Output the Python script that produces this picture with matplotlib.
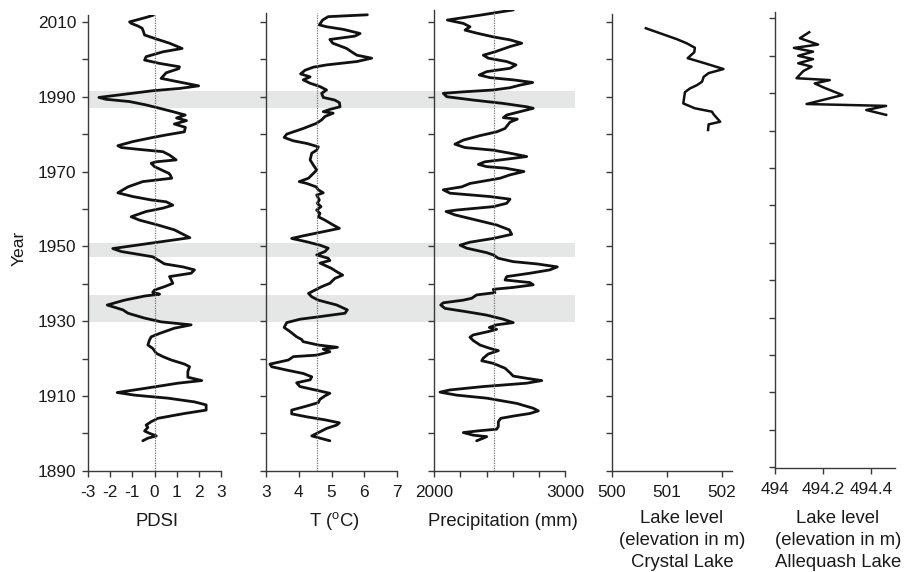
import matplotlib
matplotlib.use("Agg")
import matplotlib.pyplot as plt
import numpy as np

plt.rcParams['font.family'] = ['Liberation Sans', 'DejaVu Sans']
plt.rcParams['mathtext.fontset'] = 'custom'
plt.rcParams['mathtext.rm'] = 'Liberation Sans'
plt.rcParams['axes.unicode_minus'] = False

# --- data -------------------------------------------------------------
pdsi_year = [2011.8, 2011.2, 2010.0, 2009.6, 2008.9, 2008.3, 2007.4, 2006.5, 2005.6, 2004.3,
             2002.9, 2002.0, 2000.7, 1999.8, 1998.9, 1998.0, 1997.5, 1996.4, 1994.9, 1994.0,
             1992.9, 1992.2, 1991.6, 1990.6, 1989.8, 1989.3, 1988.7, 1987.8, 1986.9, 1986.0,
             1985.1, 1984.3, 1983.6, 1982.7, 1981.8, 1980.6, 1979.8, 1979.1, 1978.0, 1976.9,
             1976.4, 1975.9, 1975.3, 1974.4, 1973.1, 1972.6, 1972.2, 1971.3, 1969.5, 1969.1,
             1968.2, 1967.3, 1965.9, 1964.3, 1963.3, 1962.4, 1961.9, 1961.0, 1960.2, 1959.3,
             1957.9, 1957.0, 1955.7, 1954.4, 1952.3, 1949.4, 1948.6, 1947.2, 1946.1, 1945.3,
             1944.5, 1943.7, 1942.8, 1941.9, 1941.0, 1940.1, 1939.2, 1938.3, 1937.7, 1937.2,
             1936.7, 1935.6, 1934.3, 1933.0, 1932.1, 1930.8, 1929.8, 1929.0, 1928.1, 1926.7,
             1925.8, 1924.9, 1923.6, 1922.7, 1921.4, 1920.5, 1919.6, 1918.5, 1917.8, 1916.5,
             1915.0, 1914.1, 1913.4, 1912.0, 1910.9, 1910.2, 1909.4, 1908.4, 1907.6, 1906.2,
             1905.3, 1904.0, 1903.1, 1902.2, 1901.6, 1900.6, 1900.0, 1899.3, 1898.7, 1898.0]
pdsi = [-0.05, -0.38, -1.13, -1.05, -0.75, -0.56, -0.5, -0.45, 0.0, 0.68,
        1.25, 0.38, -0.38, -0.45, 0.23, 1.13, 1.1, 0.53, 0.3, 1.06,
        2.0, 1.13, -0.08, -1.43, -2.52, -2.19, -1.13, -0.38, 0.23, 0.83,
        1.39, 1.0, 1.45, 0.9, 1.4, 1.35, 0.55, -0.08, -0.98, -1.66,
        -1.5, -0.68, 0.38, 0.68, 0.98, 0.08, -0.15, 0.0, 0.65, 0.71,
        0.78, -0.53, -1.2, -1.66, -0.98, -0.15, 0.53, 0.83, 0.38, -0.38,
        -1.06, -0.68, 0.15, 0.9, 1.6, -1.89, -1.5, -0.08, 0.23, 0.45,
        1.28, 1.81, 1.66, 0.68, 0.76, 0.83, 0.45, 0.0, -0.08, 0.23,
        -0.45, -1.36, -2.14, -1.43, -1.2, -0.45, 0.3, 1.66, 0.9, 0.23,
        -0.15, -0.23, -0.3, -0.08, 0.08, 0.38, 0.76, 1.36, 1.59, 1.51,
        1.51, 2.14, 1.06, -0.45, -1.69, -0.9, 0.6, 1.81, 2.34, 2.34,
        1.36, 0.15, -0.15, -0.38, -0.3, -0.45, -0.23, 0.08, -0.3, -0.53]

temp_year = [2011.9, 2011.4, 2010.5, 2009.2, 2008.7, 2008.0, 2006.9, 2006.2, 2005.3, 2004.3,
             2002.9, 2002.0, 2001.1, 2000.3, 1999.4, 1998.5, 1997.9, 1997.1, 1996.1, 1995.3,
             1994.5, 1993.6, 1992.7, 1991.8, 1990.9, 1989.8, 1989.1, 1988.4, 1987.3, 1986.6,
             1986.0, 1985.6, 1984.7, 1983.8, 1982.9, 1981.5, 1980.0, 1979.1, 1978.2, 1977.5,
             1976.6, 1975.7, 1974.9, 1973.1, 1971.7, 1970.4, 1969.5, 1968.2, 1967.3, 1966.8,
             1965.9, 1965.1, 1964.3, 1963.7, 1962.4, 1961.5, 1960.6, 1959.7, 1958.8, 1957.9,
             1957.0, 1955.7, 1954.8, 1953.9, 1952.8, 1952.1, 1951.2, 1950.3, 1949.5, 1948.6,
             1947.7, 1946.8, 1946.2, 1945.5, 1944.7, 1944.1, 1943.2, 1942.3, 1941.4, 1940.1,
             1939.2, 1938.3, 1937.4, 1936.5, 1935.6, 1934.3, 1933.0, 1932.1, 1931.2, 1930.5,
             1929.6, 1928.3, 1927.2, 1925.8, 1925.1, 1924.5, 1923.6, 1923.0, 1922.5, 1921.8,
             1920.9, 1920.5, 1919.6, 1918.5, 1917.8, 1916.9, 1916.0, 1915.1, 1914.3, 1913.5,
             1912.5, 1911.4, 1910.7, 1910.0, 1909.1, 1908.2, 1907.3, 1906.2, 1905.2, 1904.4,
             1903.6, 1902.8, 1902.2, 1901.3, 1900.4, 1899.3, 1898.0]
temp = [6.09, 4.9, 4.73, 4.63, 4.85, 5.36, 5.87, 5.71, 4.95, 5.04,
        5.46, 5.61, 5.77, 6.22, 5.77, 4.85, 4.45, 4.2, 4.06, 4.35,
        4.14, 4.35, 4.65, 4.85, 4.7, 4.75, 5.1, 5.24, 5.26, 4.95,
        4.75, 5.05, 4.8, 4.7, 4.55, 4.14, 3.64, 3.56, 3.84, 4.25,
        4.6, 4.55, 4.4, 4.35, 4.45, 4.55, 4.45, 4.3, 4.02, 4.25,
        4.53, 4.6, 4.75, 4.55, 4.63, 4.57, 4.68, 4.55, 4.65, 4.6,
        4.8, 5.05, 5.24, 4.75, 4.14, 3.79, 4.25, 4.65, 4.9, 4.8,
        4.55, 4.9, 4.95, 4.65, 4.85, 5.0, 5.16, 5.34, 5.1, 4.95,
        4.7, 4.5, 4.3, 4.4, 4.6, 5.16, 5.48, 5.41, 4.65, 4.04,
        3.64, 3.56, 3.74, 3.94, 4.09, 4.14, 4.6, 5.18, 4.75, 4.95,
        4.55, 3.84, 3.69, 3.13, 3.18, 3.64, 4.14, 4.4, 4.35, 3.94,
        4.04, 4.6, 4.95, 4.8, 4.65, 4.6, 4.25, 3.79, 3.79, 4.25,
        4.8, 5.24, 5.16, 4.85, 4.65, 4.4, 4.95]

prec_year = [2013.2, 2011.8, 2010.5, 2009.6, 2008.7, 2007.8, 2007.0, 2006.0, 2005.2, 2004.3,
             2003.4, 2002.0, 2001.1, 2000.3, 1999.4, 1998.5, 1997.6, 1996.7, 1995.8, 1995.1,
             1994.5, 1993.8, 1993.1, 1992.4, 1991.8, 1991.3, 1990.9, 1990.0, 1989.1, 1988.2,
             1987.3, 1986.9, 1986.0, 1985.1, 1984.4, 1984.0, 1983.2, 1981.5, 1980.6, 1979.6,
             1978.4, 1977.3, 1976.4, 1975.7, 1974.9, 1974.0, 1973.3, 1972.6, 1971.9, 1971.3,
             1970.9, 1970.0, 1969.1, 1968.2, 1966.8, 1965.9, 1965.1, 1964.2, 1963.3, 1962.6,
             1961.5, 1960.6, 1959.7, 1959.3, 1958.4, 1957.0, 1955.7, 1954.4, 1953.2, 1952.1,
             1951.1, 1950.3, 1949.5, 1948.3, 1947.7, 1946.8, 1945.9, 1945.3, 1944.5, 1943.7,
             1942.8, 1941.9, 1941.0, 1940.3, 1939.7, 1939.0, 1938.5, 1937.6, 1937.0, 1936.1,
             1935.6, 1934.9, 1934.3, 1933.4, 1932.5, 1931.6, 1930.5, 1929.6, 1929.0, 1928.3,
             1927.8, 1927.2, 1926.3, 1925.7, 1924.8, 1923.6, 1922.7, 1922.1, 1921.2, 1920.1,
             1919.4, 1918.7, 1917.4, 1916.2, 1915.3, 1914.7, 1914.1, 1913.4, 1912.5, 1911.6,
             1911.0, 1910.2, 1909.4, 1908.0, 1906.7, 1906.0, 1905.3, 1904.6, 1904.0, 1903.1,
             1901.8, 1901.1, 1900.7, 1900.2, 1899.5, 1899.1, 1898.7, 1898.0]
prec = [2604, 2350, 2100, 2222, 2273, 2235, 2324, 2451, 2579, 2669,
        2579, 2464, 2375, 2413, 2554, 2625, 2579, 2401, 2344, 2426,
        2604, 2753, 2656, 2579, 2451, 2222, 2069, 2095, 2298, 2528,
        2707, 2757, 2656, 2554, 2528, 2635, 2579, 2541, 2477, 2350,
        2222, 2158, 2235, 2451, 2579, 2707, 2554, 2388, 2337, 2401,
        2541, 2686, 2579, 2503, 2273, 2210, 2069, 2120, 2426, 2579,
        2554, 2451, 2171, 2090, 2158, 2324, 2477, 2574, 2592, 2451,
        2273, 2197, 2248, 2401, 2451, 2490, 2604, 2783, 2941, 2885,
        2732, 2554, 2541, 2732, 2757, 2604, 2451, 2464, 2324, 2286,
        2222, 2069, 2049, 2082, 2248, 2401, 2528, 2604, 2477, 2421,
        2477, 2413, 2298, 2273, 2298, 2350, 2426, 2490, 2413, 2375,
        2363, 2451, 2541, 2579, 2604, 2707, 2822, 2707, 2375, 2120,
        2044, 2171, 2401, 2630, 2757, 2796, 2732, 2604, 2508, 2490,
        2490, 2477, 2350, 2222, 2298, 2401, 2375, 2324]

crystal_year = [2008.3, 2005.4, 2004.3, 2003.1, 2001.9, 2000.3, 1998.9, 1997.4, 1996.3, 1995.3,
                1994.0, 1993.1, 1992.2, 1991.2, 1988.2, 1986.9, 1986.0, 1985.3, 1983.3, 1982.6,
                1981.1]
crystal = [500.62, 501.18, 501.36, 501.51, 501.50, 501.38, 501.70, 502.03, 501.76, 501.67,
           501.64, 501.55, 501.42, 501.33, 501.30, 501.51, 501.82, 501.85, 501.97, 501.76,
           501.75]

alleq_year = [2006.3, 2004.7, 2003.0, 2002.1, 2001.1, 2000.0, 1999.1, 1998.0, 1997.1, 1995.9,
              1994.0, 1993.5, 1992.6, 1991.4, 1989.5, 1988.2, 1987.1, 1986.6, 1985.5, 1984.2]
alleq = [494.142, 494.103, 494.179, 494.078, 494.158, 494.096, 494.158, 494.096, 494.152, 494.117,
         494.089, 494.228, 494.165, 494.207, 494.281, 494.200, 494.131, 494.464, 494.381, 494.464]

# dry periods shaded across the climate panels
bands = [(1987.1, 1991.6), (1947.2, 1950.9), (1929.8, 1937.0)]

pdsi_ref, temp_ref, prec_ref = 0.0, 4.57, 2457

# --- layout (pixels) ----------------------------------------------------
W, H = 913, 572
PPY = 3.74  # pixels per year


def add_panel(x0, x1, ybot, y0, y1):
    rect = [x0 / W, (H - ybot) / H, (x1 - x0) / W, (y1 - y0) * PPY / H]
    ax = fig.add_axes(rect)
    ax.set_ylim(y0, y1)
    ax.patch.set_alpha(0)
    return ax


fig = plt.figure(figsize=(W / 100, H / 100), dpi=100)

bg = add_panel(88.3, 575, 470.7, 1890, 2011.9)
bg.axis('off')
for lo, hi in bands:
    bg.axhspan(lo, hi, color='#e5e6e6', lw=0)

ax1 = add_panel(88.3, 220.7, 470.7, 1890, 2011.9)
ax2 = add_panel(265.7, 397.3, 470.7, 1890, 2012.3)
ax3 = add_panel(434.3, 565.0, 470.7, 1890, 2013.3)
ax4 = add_panel(611.7, 732.3, 470.7, 1890, 2012.2)
ax5 = add_panel(775.3, 894.7, 468.3, 1889.7, 2011.8)

line_kw = dict(color='#111111', lw=2.0, solid_joinstyle='round', solid_capstyle='round')
ref_kw = dict(color='#777777', lw=0.9, ls=(0, (1, 1)))

ax1.plot(pdsi, pdsi_year, **line_kw)
ax1.axvline(pdsi_ref, **ref_kw)
ax1.set_xlim(-3, 3)
ax1.set_xticks(range(-3, 4))

ax2.plot(temp, temp_year, **line_kw)
ax2.axvline(temp_ref, **ref_kw)
ax2.set_xlim(3, 7)
ax2.set_xticks(range(3, 8))

ax3.plot(prec, prec_year, **line_kw)
ax3.axvline(prec_ref, **ref_kw)
ax3.set_xlim(2000, 3000)
ax3.set_xticks([2000, 3000])
ax3.set_xticks(range(2200, 3000, 200), minor=True)

ax4.plot(crystal, crystal_year, color='#111111', lw=1.8, solid_joinstyle='round')
ax4.set_xlim(500, 502.19)
ax4.set_xticks([500, 501, 502])

ax5.plot(alleq, alleq_year, color='#111111', lw=1.8, solid_joinstyle='round')
ax5.set_xlim(494, 494.5)
ax5.set_xticks([494, 494.2, 494.4])
ax5.set_xticklabels(['494', '494.2', '494.4'])

years = list(range(1890, 2011, 10))
for ax in (ax1, ax2, ax3, ax4, ax5):
    for s in ('top', 'right'):
        ax.spines[s].set_visible(False)
    for s in ('left', 'bottom'):
        ax.spines[s].set_color('#3a3a3a')
        ax.spines[s].set_linewidth(1.0)
    ax.set_yticks(years)
    ax.tick_params(which='both', direction='out', length=4.5, width=1.0, color='#3a3a3a',
                   labelsize=12.4, labelcolor='#1a1a1a', pad=5.5)
    ax.tick_params(axis='y', labelleft=False)

ax1.set_yticklabels([str(y) if (y - 1890) % 20 == 0 else '' for y in years])
ax1.tick_params(axis='y', labelleft=True, pad=4.0)

# axis titles
txt_kw = dict(fontsize=13.3, color='#1a1a1a', ha='center', va='center')
fig.text(18.8 / W, 1 - 248 / H, 'Year', rotation=90, color='#1a1a1a', fontsize=12.6,
         ha='center', va='center')
fig.text(157 / W, 1 - 521 / H, 'PDSI', **txt_kw)
fig.text(334 / W, 1 - 521 / H, 'T ($^{\\rm o}$C)', **txt_kw)
fig.text(503 / W, 1 - 521 / H, 'Precipitation (mm)', **txt_kw)
fig.text(682 / W, 1 - 540.5 / H, 'Lake level\n(elevation in m)\nCrystal Lake',
         linespacing=1.42, **txt_kw)
fig.text(838 / W, 1 - 540.5 / H, 'Lake level\n(elevation in m)\nAllequash Lake',
         linespacing=1.42, **txt_kw)

fig.savefig('out.png', dpi=100)
